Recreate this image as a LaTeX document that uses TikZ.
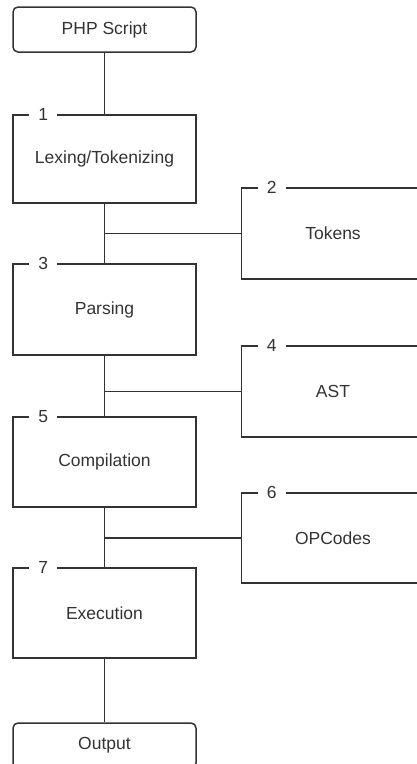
\documentclass[tikz,border=0pt]{standalone}
\usepackage{fontspec}
\setmainfont{Liberation Sans}
\begin{document}
\begin{tikzpicture}[x=1pt,y=-1pt,
  ink/.style={draw=black!80, line width=1.5pt},
  stage/.style={ink, minimum width=183pt, inner sep=0pt, text=black!80,
    font=\fontsize{17.5}{20}\selectfont},
  endpoint/.style={stage, rounded corners=5pt, minimum height=45pt},
  numlbl/.style={fill=white, inner xsep=9pt, inner ysep=0pt, text=black!80,
    font=\fontsize{17.5}{20}\selectfont},
  link/.style={ink}]
  \useasboundingbox (0,0) rectangle (417,764);
  \clip (0,0) rectangle (417,764);

  % main pipeline (left column)
  \node[endpoint] (php) at (104.5,29.5) {PHP Script};
  \node[stage, minimum height=88pt] (s1) at (104.5,159) {Lexing/Tokenizing};
  \node[stage, minimum height=91pt] (s3) at (104.5,309.5) {Parsing};
  \node[stage, minimum height=90pt] (s5) at (104.5,462) {Compilation};
  \node[stage, minimum height=90pt] (s7) at (104.5,613) {Execution};
  \node[endpoint] (out) at (104.5,745.5) {Output};

  % intermediate products (right column)
  \node[stage, minimum height=91pt] (t2) at (333,233.5) {Tokens};
  \node[stage, minimum height=91pt] (t4) at (333,391.5) {AST};
  \node[stage, minimum height=90pt] (t6) at (333,538) {OPCodes};

  % step numbers sitting on the top borders
  \node[numlbl] at ([xshift=31pt]s1.north west) {1};
  \node[numlbl] at ([xshift=31pt]t2.north west) {2};
  \node[numlbl] at ([xshift=31pt]s3.north west) {3};
  \node[numlbl] at ([xshift=31pt]t4.north west) {4};
  \node[numlbl] at ([xshift=31pt]s5.north west) {5};
  \node[numlbl] at ([xshift=31pt]t6.north west) {6};
  \node[numlbl] at ([xshift=31pt]s7.north west) {7};

  % vertical flow
  \draw[link] (php) -- (s1);
  \draw[link] (s1) -- (s3);
  \draw[link] (s3) -- (s5);
  \draw[link] (s5) -- (s7);
  \draw[link] (s7) -- (out);

  % branches to the products
  \coordinate (j2) at (s1.south |- t2.west);
  \coordinate (j4) at (s3.south |- t4.west);
  \coordinate (j6) at (s5.south |- t6.west);
  \draw[link] (j2) -- (t2.west);
  \draw[link] (j4) -- (t4.west);
  \draw[link] (j6) -- (t6.west);
\end{tikzpicture}
\end{document}
